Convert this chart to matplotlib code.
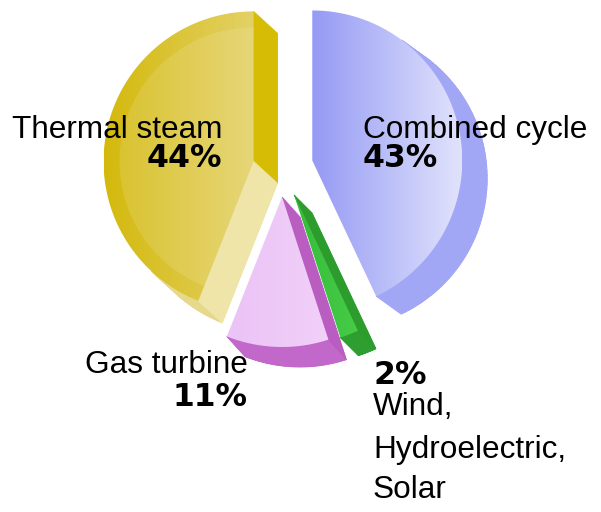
import numpy as np
import matplotlib.pyplot as plt
from matplotlib.patches import Polygon
from matplotlib.colors import LinearSegmentedColormap

# pie data, counter-clockwise from 12 o'clock
labels = ['Thermal steam', 'Gas turbine', 'Wind,\nHydroelectric,\nSolar', 'Combined cycle']
shares = [44, 11, 2, 43]
pct_labels = ['44%', '11%', '2%', '43%']

# styling per wedge: front gradient (left, right), side colours (start edge, arc, end edge)
face_cols = [('#d4b90c', '#e3d166'), ('#ebc3f6', '#f1d0f9'),
             ('#33bc38', '#48cc48'), ('#959af4', '#e1e3fc')]
side_cols = [('#d6bc04', '#e6d98c', '#efe5a8'), ('#b050b8', '#c268ca', '#b95dc1'),
             ('#2a9a2a', '#2e9e30', '#2c9c2c'), ('#9a9ff4', '#a1a6f5', '#c8cbf9')]
depth = [(24, 22), (18, 20), (18, 18), (25, 18)]

cx, cy = 283, 167
radius = 150
explode = 30
fs = 22.7

fig = plt.figure(figsize=(6.01, 5.12), dpi=100)
ax = fig.add_axes([0, 0, 1, 1])
ax.set_xlim(0, 601)
ax.set_ylim(512, 0)
ax.axis('off')


def wedge_pts(x0, y0, r, t1, t2, n=90):
    t = np.radians(np.linspace(t1, t2, n))
    arc = np.column_stack([x0 + r * np.cos(t), y0 - r * np.sin(t)])
    return np.vstack([[x0, y0], arc])


def draw_wedge(pts, d, face, sides, z):
    pts = np.asarray(pts)
    d = np.asarray(d, dtype=float)
    cen = pts.mean(axis=0)
    # back face
    ax.add_patch(Polygon(pts + d, closed=True, fc=sides[1], ec='none', zorder=z))
    n = len(pts)
    for i in range(n):
        p, q = pts[i], pts[(i + 1) % n]
        e = q - p
        nrm = np.array([e[1], -e[0]])
        if np.dot(nrm, (p + q) / 2 - cen) < 0:
            nrm = -nrm
        if np.dot(nrm, d) <= 0:
            continue
        if i == 0:
            c = sides[0]
        elif i == n - 1:
            c = sides[2]
        else:
            c = sides[1]
        ax.add_patch(Polygon([p, q, q + d, p + d], closed=True, fc=c, ec=c,
                             lw=0.6, zorder=z + 0.1))
    # front face with horizontal gradient
    clip = Polygon(pts, closed=True, fc='none', ec='none', zorder=z + 0.2)
    ax.add_patch(clip)
    cmap = LinearSegmentedColormap.from_list('f', list(face))
    x0, x1 = pts[:, 0].min(), pts[:, 0].max()
    y0, y1 = pts[:, 1].min(), pts[:, 1].max()
    im = ax.imshow(np.linspace(0, 1, 256).reshape(1, -1), cmap=cmap,
                   extent=(x0, x1, y1, y0), aspect='auto',
                   interpolation='bicubic', zorder=z + 0.2)
    im.set_clip_path(clip)


start = 90.0
cum = 0.0
for i, s in enumerate(shares):
    t1 = start + 360 * cum / 100
    t2 = start + 360 * (cum + s) / 100
    cum += s
    mid = np.radians((t1 + t2) / 2)
    ox = cx + explode * np.cos(mid)
    oy = cy - explode * np.sin(mid)
    pts = wedge_pts(ox, oy, radius, t1, t2)
    draw_wedge(pts, depth[i], face_cols[i], side_cols[i], z=2 + i)
    if i == 0:
        # lighter inner band on the thermal face
        inner = wedge_pts(ox, oy, radius - 16, t1, t2)
        ax.add_patch(Polygon(inner, closed=True, fc='white', alpha=0.12,
                             ec='none', zorder=2.5))

# labels
reg = dict(family='Liberation Sans', fontsize=fs, color='black', zorder=10)
bold = dict(family='DejaVu Sans', fontsize=fs, fontweight='bold', color='black', zorder=10)

ax.text(223, 138, labels[0], ha='right', va='baseline', **reg)
ax.text(222, 167, pct_labels[0], ha='right', va='baseline', **bold)
ax.text(363, 138, labels[3], ha='left', va='baseline', **reg)
ax.text(363, 167, pct_labels[3], ha='left', va='baseline', **bold)
ax.text(248, 373, labels[1], ha='right', va='baseline', **reg)
ax.text(248, 406, pct_labels[1], ha='right', va='baseline', **bold)
ax.text(373, 384, pct_labels[2], ha='left', va='baseline', **bold)
for line, yb in zip(labels[2].split('\n'), [415, 458, 498]):
    ax.text(373, yb, line, ha='left', va='baseline', **reg)

fig.savefig('out.png', dpi=100)
